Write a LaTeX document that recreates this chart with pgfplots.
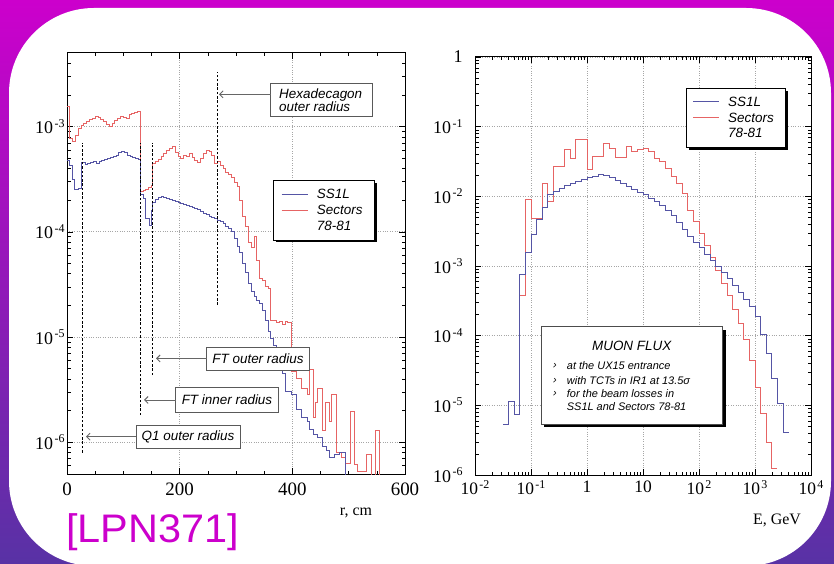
\documentclass[border=0pt]{standalone}
\usepackage{fontspec}
\setmainfont{Liberation Serif}
\newfontfamily\hsans{Liberation Sans}
\usepackage{pgfplots}
\pgfplotsset{compat=1.18}
\usetikzlibrary{arrows.meta}
\definecolor{ssblue}{RGB}{85,85,165}
\definecolor{secred}{RGB}{230,100,100}
\definecolor{bgtop}{RGB}{204,0,204}
\definecolor{bgbot}{RGB}{88,50,165}
\definecolor{lpn}{RGB}{204,0,204}
\newcommand{\tl}[1]{10\kern1.5bp\raisebox{6.5bp}{\fontsize{12}{12}\selectfont #1}}
\newcommand{\ann}{\hsans\itshape\fontsize{13.5}{15}\selectfont}
\pgfplotsset{
  pawstyle/.style={
    scale only axis, anchor=south west,
    grid=major, major grid style={dotted, gray!70, line width=0.7bp},
    tick align=inside, xtick pos=both, ytick pos=both,
    xticklabel pos=lower, yticklabel pos=left,
    major tick length=6bp, minor tick length=3.5bp,
    tick style={black, line width=0.5bp},
    axis line style={line width=1bp},
    ticklabel style={font=\fontsize{18}{18}\selectfont},
  },
  hist/.style={const plot, line width=0.9bp, mark=none},
}
\begin{document}
\begin{tikzpicture}[x=1bp,y=1bp]
\useasboundingbox (0,0) rectangle (834,564);
\clip (0,0) rectangle (834,564);
\shade[top color=bgtop, bottom color=bgbot] (0,0) rectangle (834,564);
\fill[white, rounded corners=85bp] (9,-2) rectangle (831,556);

% ---------------- left plot ----------------
\begin{axis}[pawstyle, at={(67bp,90bp)}, width=338bp, height=421bp,
  xmin=0, xmax=600, ymode=log, ymin=5e-7, ymax=5e-3,
  xtick={0,200,400,600}, xticklabels={0,200,400,600},
  minor xtick={50,100,150,250,300,350,450,500,550},
  ytick={1e-6,1e-5,1e-4,1e-3}, yticklabels={\tl{-6},\tl{-5},\tl{-4},\tl{-3}},
  minor ytick={6e-7,7e-7,8e-7,9e-7,2e-6,3e-6,4e-6,5e-6,6e-6,7e-6,8e-6,9e-6,
    2e-5,3e-5,4e-5,5e-5,6e-5,7e-5,8e-5,9e-5,2e-4,3e-4,4e-4,5e-4,6e-4,7e-4,8e-4,9e-4,
    2e-3,3e-3,4e-3},
  xticklabel style={font=\fontsize{19}{19}\selectfont, yshift=-5bp},
  yticklabel style={xshift=1bp},
]
\addplot[hist, secred] coordinates {
(0,1.55e-3) (5,7.76e-4) (10,7.24e-4) (15,8.3e-4) (20,9.5e-4) (25,1.02e-3)
(30,1.07e-3) (35,1.12e-3) (40,1.17e-3) (45,1.20e-3) (50,1.26e-3) (55,1.23e-3)
(60,1.17e-3) (65,1.12e-3) (70,1.05e-3) (75,1.0e-3) (80,1.07e-3) (85,1.15e-3)
(90,1.20e-3) (95,1.26e-3) (100,1.23e-3) (105,1.20e-3) (110,1.29e-3) (115,1.32e-3)
(120,1.35e-3) (125,1.38e-3) (130,2.40e-4) (135,2.45e-4) (140,2.5e-4) (145,2.63e-4)
(150,2.75e-4) (152,4.47e-4) (157,4.68e-4) (162,4.9e-4) (167,5.25e-4) (172,5.5e-4)
(177,5.9e-4) (182,6.17e-4) (187,6.46e-4) (192,5.62e-4) (197,5.25e-4) (202,5.01e-4)
(207,5.37e-4) (212,5.25e-4) (217,5.5e-4) (222,5.13e-4) (227,4.79e-4) (232,4.57e-4)
(237,5.0e-4) (242,5.5e-4) (247,5.9e-4) (252,5.75e-4) (257,5.37e-4) (262,4.47e-4)
(267,4.68e-4) (272,4.27e-4) (277,3.98e-4) (282,3.63e-4) (287,3.47e-4) (292,3.31e-4)
(297,2.95e-4) (302,2.69e-4) (307,2.0e-4) (312,1.41e-4) (317,1.12e-4) (322,7.94e-5)
(327,7.08e-5) (332,9.12e-5) (337,5.37e-5) (342,3.63e-5) (347,3.47e-5) (352,3.02e-5)
(357,2.88e-5) (362,1.45e-5) (367,1.45e-5) (372,1.38e-5) (377,1.41e-5) (382,1.32e-5)
(387,1.41e-5) (392,1.38e-5) (398,4.68e-6) (403,4.68e-6) (408,4.07e-6) (413,4.07e-6)
(417,3.24e-6) (422,3.24e-6) (426,2.82e-6) (430,4.9e-6) (437,1.74e-6) (441,2.4e-6)
(445,3.24e-6) (454,1.29e-6) (459,2.4e-6) (465,1.58e-6) (470,2.88e-6) (479,8.1e-7)
(487,7.2e-7) (495,6.3e-7) (504,1.95e-6) (510,6.2e-7) (516,5.25e-7) (521,5.25e-7)
(532,7.6e-7) (541,1e-8) (547,1.29e-6) (555,1e-8)
};
\addplot[hist, ssblue] coordinates {
(0,4.79e-4) (5,4.27e-4) (10,3.16e-4) (14,2.51e-4) (21,2.57e-4) (26,4.57e-4)
(32,4.37e-4) (37,4.47e-4) (42,4.57e-4) (47,4.68e-4) (52,4.47e-4) (57,4.68e-4)
(62,4.79e-4) (67,4.9e-4) (72,5.01e-4) (77,5.13e-4) (82,5.25e-4) (87,5.37e-4)
(92,5.62e-4) (97,5.75e-4) (102,5.62e-4) (107,5.37e-4) (112,5.25e-4) (117,5.13e-4)
(122,5.01e-4) (127,4.9e-4) (131,2.24e-4) (136,2.09e-4) (140,1.35e-4) (146,1.15e-4)
(150,1.58e-4) (152,1.91e-4) (157,2.04e-4) (162,2.14e-4) (167,2.19e-4) (172,2.14e-4)
(177,2.09e-4) (182,2.04e-4) (187,2.0e-4) (192,1.95e-4) (197,1.91e-4) (202,1.86e-4)
(207,1.82e-4) (212,1.78e-4) (217,1.74e-4) (222,1.70e-4) (227,1.66e-4) (232,1.62e-4)
(237,1.55e-4) (242,1.51e-4) (247,1.45e-4) (252,1.41e-4) (257,1.38e-4) (262,1.35e-4)
(267,1.29e-4) (272,1.26e-4) (277,1.20e-4) (282,1.12e-4) (287,1.07e-4) (292,1.0e-4)
(297,8.7e-5) (302,7.24e-5) (307,6.3e-5) (312,5.0e-5) (317,4.07e-5) (322,3.24e-5)
(327,2.69e-5) (332,2.45e-5) (337,2.24e-5) (342,2.09e-5) (347,1.78e-5) (352,1.45e-5)
(357,1.12e-5) (362,9.8e-6) (367,8.3e-6) (372,7.24e-6) (377,5.62e-6) (382,4.47e-6)
(387,3.02e-6) (399,2.88e-6) (408,2.04e-6) (417,1.74e-6) (426,1.58e-6) (430,1.32e-6)
(437,1.20e-6) (445,1.12e-6) (454,9.1e-7) (460,8.3e-7) (466,7.2e-7) (475,7.6e-7)
(483,8.1e-7) (494,1e-8)
};
\draw[black, line width=0.6bp, dash pattern=on 2.5bp off 1.8bp] (axis cs:28,8e-7) -- (axis cs:28,7.05e-4);
\draw[black, line width=0.6bp, dash pattern=on 2.5bp off 1.8bp] (axis cs:130,1.81e-6) -- (axis cs:130,7.05e-4);
\draw[black, line width=0.6bp, dash pattern=on 2.5bp off 1.8bp] (axis cs:152,4.35e-6) -- (axis cs:152,7.05e-4);
\draw[black, line width=0.6bp, dash pattern=on 2.5bp off 1.8bp] (axis cs:267.5,2.02e-5) -- (axis cs:267.5,3.27e-3);
\end{axis}

% ---------------- right plot ----------------
\begin{axis}[pawstyle, at={(475bp,89bp)}, width=336bp, height=418bp,
  xmode=log, ymode=log, xmin=0.01, xmax=10000, ymin=1e-6, ymax=1,
  xtick={0.01,0.1,1,10,100,1000,10000},
  xticklabels={\tl{-2},\tl{-1},1,10,\tl{2},\tl{3},\tl{4}},
  minor xtick={0.02,0.03,0.04,0.05,0.06,0.07,0.08,0.09,0.2,0.3,0.4,0.5,0.6,0.7,0.8,0.9,
    2,3,4,5,6,7,8,9,20,30,40,50,60,70,80,90,200,300,400,500,600,700,800,900,
    2000,3000,4000,5000,6000,7000,8000,9000},
  ytick={1e-6,1e-5,1e-4,1e-3,1e-2,1e-1,1},
  yticklabels={\tl{-6},\tl{-5},\tl{-4},\tl{-3},\tl{-2},\tl{-1},1},
  minor ytick={2e-6,3e-6,4e-6,5e-6,6e-6,7e-6,8e-6,9e-6,2e-5,3e-5,4e-5,5e-5,6e-5,7e-5,8e-5,9e-5,
    2e-4,3e-4,4e-4,5e-4,6e-4,7e-4,8e-4,9e-4,2e-3,3e-3,4e-3,5e-3,6e-3,7e-3,8e-3,9e-3,
    2e-2,3e-2,4e-2,5e-2,6e-2,7e-2,8e-2,9e-2,0.2,0.3,0.4,0.5,0.6,0.7,0.8,0.9},
  xticklabel style={font=\fontsize{17.5}{17.5}\selectfont, yshift=-2bp},
  yticklabel style={xshift=-9bp},
]
\addplot[hist, secred] coordinates {
(0.0631,3.80e-4) (0.0794,9.12e-3) (0.1,4.79e-3) (0.1259,4.79e-3) (0.1585,1.55e-2)
(0.1995,8.32e-3) (0.2512,2.69e-2) (0.3162,2.69e-2) (0.3981,4.68e-2) (0.5012,3.55e-2)
(0.631,6.61e-2) (0.7943,6.61e-2) (1,2.40e-2) (1.259,3.72e-2) (1.585,3.72e-2)
(1.995,5.75e-2) (2.512,4.90e-2) (3.162,3.63e-2) (3.981,3.63e-2) (5.012,5.25e-2)
(6.31,4.37e-2) (7.943,4.68e-2) (10,4.90e-2) (12.59,4.37e-2) (15.85,3.55e-2)
(19.95,3.16e-2) (25.12,2.51e-2) (31.62,1.91e-2) (39.81,1.55e-2) (50.12,1.10e-2)
(63.1,6.31e-3) (79.43,4.37e-3) (100,2.95e-3) (125.9,2.0e-3) (158.5,1.32e-3)
(199.5,8.71e-4) (251.2,5.62e-4) (316.2,3.80e-4) (398.1,2.40e-4) (501.2,1.48e-4)
(631,8.91e-5) (794.3,4.47e-5) (1000,1.78e-5) (1259,7.59e-6) (1585,2.95e-6)
(1995,1.23e-6) (2512,1.23e-6)
};
\addplot[hist, ssblue] coordinates {
(0.03162,5.25e-6) (0.03981,1.12e-5) (0.05012,7.41e-6) (0.0631,7.59e-4) (0.0794,1.58e-3)
(0.1,2.88e-3) (0.1259,4.68e-3) (0.1585,6.92e-3) (0.1995,1.05e-2) (0.2512,1.17e-2)
(0.3162,1.29e-2) (0.3981,1.41e-2) (0.5012,1.55e-2) (0.631,1.66e-2) (0.7943,1.74e-2)
(1,1.86e-2) (1.259,1.95e-2) (1.585,2.04e-2) (1.995,2.0e-2) (2.512,1.86e-2)
(3.162,1.70e-2) (3.981,1.51e-2) (5.012,1.38e-2) (6.31,1.26e-2) (7.943,1.15e-2)
(10,1.05e-2) (12.59,9.33e-3) (15.85,8.32e-3) (19.95,7.41e-3) (25.12,6.31e-3)
(31.62,5.25e-3) (39.81,4.27e-3) (50.12,3.39e-3) (63.1,2.63e-3) (79.43,2.19e-3)
(100,1.82e-3) (125.9,1.48e-3) (158.5,1.20e-3) (199.5,1.0e-3) (251.2,8.13e-4)
(316.2,6.61e-4) (398.1,5.25e-4) (501.2,4.17e-4) (631,3.31e-4) (794.3,2.63e-4)
(1000,1.86e-4) (1259,1.05e-4) (1585,5.62e-5) (1995,2.40e-5) (2512,1.07e-5)
(3162,4.07e-6) (3981,4.07e-6)
};
\end{axis}

% ---------------- annotations left ----------------
\tikzset{annbox/.style={draw=black!65, line width=0.8bp, fill=white},
         annarr/.style={draw=black!60, line width=0.9bp, -{Straight Barb[length=3.5bp,width=7bp]}}}
% Hexadecagon
\draw[annbox] (270.7,447.3) rectangle (372.7,480.7);
\node[font=\ann, align=left, anchor=west, inner sep=0] at (279,464) {Hexadecagon\\[-2.5bp]outer radius};
\draw[annarr] (270.7,469.7) -- (219,469.7);
% FT outer
\draw[annbox] (206.7,194) rectangle (309.3,217);
\node[font=\ann, inner sep=0] at (258,205.5) {FT outer radius};
\draw[annarr] (206.7,205.5) -- (156,205.5);
% FT inner
\draw[annbox] (175.7,151.7) rectangle (278.3,176.3);
\node[font=\ann, inner sep=0] at (227,164) {FT inner radius};
\draw[annarr] (175.7,164) -- (144,164);
% Q1
\draw[annbox] (136,115.7) rectangle (240,139);
\node[font=\ann, inner sep=0] at (188,127.3) {Q1 outer radius};
\draw[annarr] (136,127.3) -- (86,127.3);

% legend left
\fill[black] (276,321.5) rectangle (376.5,380.8);
\filldraw[fill=white, draw=black, line width=0.8bp] (273.3,324) rectangle (374,383.3);
\draw[ssblue, line width=0.9bp] (281.7,370) -- (308.3,370);
\draw[secred, line width=0.9bp] (281.7,354) -- (308.3,354);
\node[font=\ann, anchor=west, inner sep=0] at (316.7,370) {SS1L};
\node[font=\ann, anchor=west, inner sep=0] at (316.7,354) {Sectors};
\node[font=\ann, anchor=west, inner sep=0] at (316.7,338.5) {78-81};

% legend right
\fill[black] (688.5,414.2) rectangle (787.5,473.2);
\filldraw[fill=white, draw=black, line width=0.8bp] (686,416.7) rectangle (785,475.7);
\draw[ssblue, line width=0.9bp] (693,462.3) -- (719,462.3);
\draw[secred, line width=0.9bp] (693,446.3) -- (719,446.3);
\node[font=\ann, anchor=west, inner sep=0] at (728,462.3) {SS1L};
\node[font=\ann, anchor=west, inner sep=0] at (728,446.3) {Sectors};
\node[font=\ann, anchor=west, inner sep=0] at (728,430.7) {78-81};

% MUON FLUX box
\fill[black] (544,137) rectangle (725.7,234.3);
\filldraw[fill=white, draw=black!70, line width=0.8bp] (541,140) rectangle (722.7,237.3);
\node[font=\hsans\itshape\fontsize{13.5}{15}\selectfont, inner sep=0] at (631.7,218) {MUON FLUX};
\begin{scope}[every node/.style={font=\hsans\itshape\fontsize{11}{12}\selectfont, anchor=west, inner sep=0}]
\node at (553,198) {›};
\node at (553,183.3) {›};
\node at (553,170) {›};
\node at (566.7,198) {at the UX15 entrance};
\node at (566.7,183.3) {with TCTs in IR1 at 13.5σ};
\node at (566.7,170) {for the beam losses in};
\node at (566.7,157.3) {SS1L and Sectors 78-81};
\end{scope}

% axis titles
\node[font=\fontsize{16}{16}\selectfont, inner sep=0] at (356,51) {r, cm};
\node[font=\fontsize{16}{16}\selectfont, inner sep=0] at (777,44) {E, GeV};

% reference tag
\node[font=\hsans\fontsize{40}{41}\selectfont, text=lpn, anchor=west, inner sep=0, xscale=1.04] at (66,32) {[LPN371]};
\end{tikzpicture}
\end{document}
